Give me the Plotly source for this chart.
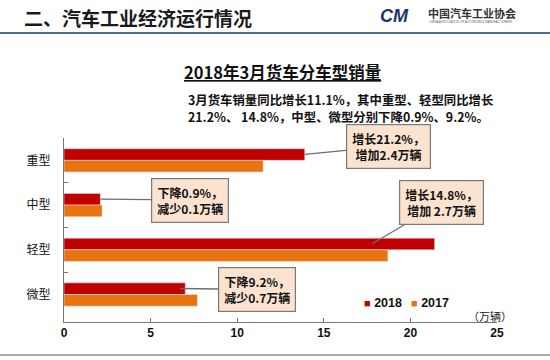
import plotly.graph_objects as go

categories = ["重型", "中型", "轻型", "微型"]
sales_2018 = [13.9, 2.1, 21.4, 7.0]
sales_2017 = [11.5, 2.2, 18.7, 7.7]
series_names = ["2018", "2017"]
x_ticks = [0, 5, 10, 15, 20, 25]
callout_texts = [
    "增长21.2%，<br>增加2.4万辆",
    "下降0.9%，<br>减少0.1万辆",
    "增长14.8%，<br>增加 2.7万辆",
    "下降9.2%，<br>减少0.7万辆",
]
subtitle_lines = [
    "3月货车销量同比增长11.1%，其中重型、轻型同比增长",
    "21.2%、 14.8%，中型、微型分别下降0.9%、9.2%。",
]

W, H = 550, 360
L, R, T, B = 64, 497, 138, 322  # plot area in pixels
XMAX = 25


def px(x):
    return (x - L) / (R - L)


def py(y):
    return (B - y) / (B - T)


RED = "#C00000"
ORANGE = "#E8730F"
FONT = "Noto Sans CJK SC"
COLORS = [RED, ORANGE]

fig = go.Figure()
fig.add_trace(go.Bar(y=categories, x=sales_2018, orientation="h", name=series_names[0],
                     marker_color=RED, showlegend=False))
fig.add_trace(go.Bar(y=categories, x=sales_2017, orientation="h", name=series_names[1],
                     marker_color=ORANGE, showlegend=False))

fig.update_layout(
    width=W, height=H,
    margin=dict(l=L, r=W - R, t=T, b=H - B, pad=0),
    paper_bgcolor="white", plot_bgcolor="white",
    barmode="group", bargap=0.48, bargroupgap=0,
    font=dict(family=FONT, color="#111"),
    showlegend=False,
)
fig.update_xaxes(range=[0, XMAX], tickvals=x_ticks, ticks="inside", ticklen=4,
                 tickcolor="#777", showline=True, linecolor="#777", linewidth=1,
                 showgrid=False, zeroline=False,
                 tickfont=dict(size=12, family="Liberation Sans", color="#111", weight="bold"))
fig.update_yaxes(categoryorder="array", categoryarray=categories, autorange="reversed",
                 ticks="inside", tickson="boundaries", ticklen=4, tickcolor="#777",
                 showline=True, linecolor="#777", linewidth=1, showgrid=False,
                 tickfont=dict(size=12, family=FONT, color="#111"), ticklabelstandoff=10)

# Legend (compact, like the original slide)
legend_x = [362, 409]
for name, col, lx in zip(series_names, COLORS, legend_x):
    fig.add_annotation(x=px(lx), y=py(303), xref="paper", yref="paper", xanchor="left",
                       yanchor="middle", showarrow=False,
                       text=f"<span style='color:{col};font-size:11px'>■</span> <b>{name}</b>",
                       font=dict(size=12.5, family="Liberation Sans", color="#111"))

# Callouts: box centre (pixels) and pointer target along the 2018 bar
box_centres = [(388, 147), (190, 202), (441, 206), (257, 294)]
target_back = [0, 0, 3.6, 0.3]  # how far back from bar end the pointer lands
slot = (B - T) / len(categories)
for i, cat in enumerate(categories):
    tx_val = sales_2018[i] - target_back[i]
    tx = L + tx_val / XMAX * (R - L)
    ty = T + slot * (i + 0.5) - 6
    bx, by = box_centres[i]
    fig.add_annotation(
        x=tx_val, y=cat, xref="x", yref="y", yshift=6,
        ax=bx - tx, ay=by - ty,
        text=callout_texts[i], showarrow=True, arrowhead=0, arrowwidth=1.3,
        arrowcolor="#6f6f6f", standoff=0,
        bgcolor="#FBE3CF", bordercolor="#7a7a7a", borderwidth=1.2, borderpad=5,
        font=dict(size=12, family=FONT, color="#111", weight="bold"), align="center",
    )

# Page header
fig.add_annotation(x=px(22), y=py(17), xref="paper", yref="paper", xanchor="left", yanchor="middle",
                   text="<b>二、汽车工业经济运行情况</b>", showarrow=False,
                   font=dict(size=19, family=FONT, color="#1a1a1a"))
fig.add_annotation(x=px(394), y=py(16), xref="paper", yref="paper", xanchor="center", yanchor="middle",
                   text="<b><i>CM</i></b>", showarrow=False,
                   font=dict(size=18, family="Liberation Sans", color="#1F3570"))
fig.add_annotation(x=px(426), y=py(13), xref="paper", yref="paper", xanchor="left", yanchor="middle",
                   text="<b>中国汽车工业协会</b>", showarrow=False,
                   font=dict(size=11, family=FONT, color="#333"))
fig.add_annotation(x=px(427), y=py(22), xref="paper", yref="paper", xanchor="left", yanchor="middle",
                   text="CHINA ASSOCIATION OF AUTOMOBILE MANUFACTURERS", showarrow=False,
                   font=dict(size=3, family="Liberation Sans", color="#666"))
fig.add_shape(type="line", xref="paper", yref="paper", x0=px(0), x1=px(550), y0=py(33), y1=py(33),
              line=dict(color="#4F6E8E", width=2))
fig.add_shape(type="line", xref="paper", yref="paper", x0=px(0), x1=px(550), y0=py(355), y1=py(355),
              line=dict(color="#8c8c8c", width=1.5))

# Chart title and subtitle
fig.add_annotation(x=px(282), y=py(72), xref="paper", yref="paper", xanchor="center", yanchor="middle",
                   text="<b><u>2018年3月货车分车型销量</u></b>", showarrow=False,
                   font=dict(size=16.5, family=FONT, color="#111"))
for line, ly in zip(subtitle_lines, [100, 117]):
    fig.add_annotation(x=px(187), y=py(ly), xref="paper", yref="paper", xanchor="left",
                       yanchor="middle", text=f"<b>{line}</b>", showarrow=False, align="left",
                       borderpad=0, font=dict(size=12.4, family=FONT, color="#111"))

# Unit label
fig.add_annotation(x=px(490), y=py(316), xref="paper", yref="paper", xanchor="center", yanchor="middle",
                   text="（万辆）", showarrow=False,
                   font=dict(size=11, family=FONT, color="#222"))

fig.write_html("out.html", config={"displayModeBar": False},
               post_script="document.body.style.margin='0';")
